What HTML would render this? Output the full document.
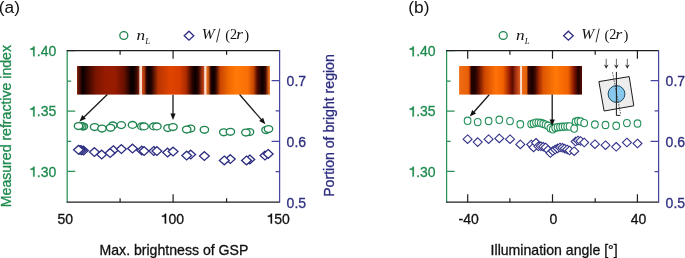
<!DOCTYPE html>
<html><head><meta charset="utf-8"><style>
html,body{margin:0;padding:0;background:#fff;width:685px;height:258px;overflow:hidden;}
svg{display:block;will-change:transform;}
</style></head><body>
<svg width="685" height="258" viewBox="0 0 685 258">
<defs>
<linearGradient id="ga1" x1="0" x2="1" y1="0" y2="0"><stop offset="0" stop-color="#8a2a10"/><stop offset="0.03" stop-color="#5a1004"/><stop offset="0.09" stop-color="#0a0000"/><stop offset="0.16" stop-color="#300500"/><stop offset="0.3" stop-color="#7a1400"/><stop offset="0.45" stop-color="#961b00"/><stop offset="0.6" stop-color="#981c00"/><stop offset="0.75" stop-color="#6a1000"/><stop offset="0.86" stop-color="#100000"/><stop offset="0.9" stop-color="#080000"/><stop offset="0.95" stop-color="#3a0800"/><stop offset="1" stop-color="#8a2a10"/></linearGradient>
<linearGradient id="ga2" x1="0" x2="1" y1="0" y2="0"><stop offset="0" stop-color="#d05018"/><stop offset="0.04" stop-color="#a83808"/><stop offset="0.07" stop-color="#300500"/><stop offset="0.115" stop-color="#080000"/><stop offset="0.16" stop-color="#300600"/><stop offset="0.26" stop-color="#b83400"/><stop offset="0.45" stop-color="#e04400"/><stop offset="0.6" stop-color="#d83e00"/><stop offset="0.7" stop-color="#b02c00"/><stop offset="0.8" stop-color="#300400"/><stop offset="0.85" stop-color="#080000"/><stop offset="0.9" stop-color="#2a0400"/><stop offset="0.96" stop-color="#a03010"/><stop offset="1" stop-color="#d05020"/></linearGradient>
<linearGradient id="ga3" x1="0" x2="1" y1="0" y2="0"><stop offset="0" stop-color="#f07a20"/><stop offset="0.04" stop-color="#c05010"/><stop offset="0.07" stop-color="#300500"/><stop offset="0.11" stop-color="#080000"/><stop offset="0.15" stop-color="#300600"/><stop offset="0.22" stop-color="#c84400"/><stop offset="0.35" stop-color="#f06800"/><stop offset="0.47" stop-color="#ff7a08"/><stop offset="0.65" stop-color="#f87008"/><stop offset="0.74" stop-color="#c84800"/><stop offset="0.8" stop-color="#500a00"/><stop offset="0.88" stop-color="#080000"/><stop offset="0.93" stop-color="#400800"/><stop offset="0.98" stop-color="#e06818"/><stop offset="1" stop-color="#f08030"/></linearGradient>
<linearGradient id="gb1" x1="0" x2="1" y1="0" y2="0"><stop offset="0" stop-color="#f06c14"/><stop offset="0.15" stop-color="#e86008"/><stop offset="0.18" stop-color="#a02800"/><stop offset="0.2" stop-color="#200200"/><stop offset="0.26" stop-color="#200200"/><stop offset="0.32" stop-color="#601000"/><stop offset="0.42" stop-color="#d04800"/><stop offset="0.6" stop-color="#ff7208"/><stop offset="0.72" stop-color="#f06000"/><stop offset="0.83" stop-color="#901800"/><stop offset="0.87" stop-color="#5a0c00"/><stop offset="0.92" stop-color="#a02c10"/><stop offset="1" stop-color="#e06020"/></linearGradient>
<linearGradient id="gb2" x1="0" x2="1" y1="0" y2="0"><stop offset="0" stop-color="#f06c14"/><stop offset="0.08" stop-color="#e06008"/><stop offset="0.1" stop-color="#400600"/><stop offset="0.17" stop-color="#180000"/><stop offset="0.22" stop-color="#400800"/><stop offset="0.28" stop-color="#a02800"/><stop offset="0.36" stop-color="#e05800"/><stop offset="0.56" stop-color="#ff7808"/><stop offset="0.77" stop-color="#f06000"/><stop offset="0.87" stop-color="#801400"/><stop offset="0.94" stop-color="#200000"/><stop offset="1" stop-color="#5a0c00"/></linearGradient>
</defs>
<rect x="77" y="66" width="62.6" height="28.599999999999994" fill="url(#ga1)"/>
<rect x="141.9" y="66" width="62.6" height="28.599999999999994" fill="url(#ga2)"/>
<rect x="206.2" y="66" width="63.8" height="28.599999999999994" fill="url(#ga3)"/>
<rect x="459.1" y="66" width="61.2" height="28.599999999999994" fill="url(#gb1)"/>
<rect x="522" y="66" width="60" height="28.599999999999994" fill="url(#gb2)"/>
<rect x="139.6" y="66" width="2.3" height="28.6" fill="#ffdccb"/>
<rect x="204.5" y="66" width="1.7" height="28.6" fill="#ffdccb"/>
<rect x="520.3" y="66" width="1.7" height="28.6" fill="#ffdccb"/>
<path d="M67.2 50.7h8M67.2 111.2h8M67.2 171.4h8M67.2 81.1h4M67.2 141.3h4M67.2 50.7V202.2" stroke="#2a9058" stroke-width="1.25" fill="none"/>
<path d="M173.1 202.2v-8M173.1 50.7v8M120.1 202.2v-4M120.1 50.7v4M226.6 202.2v-4M226.6 50.7v4" stroke="#1e1e1e" stroke-width="1.2" fill="none"/>
<path d="M66.6 50.7H279.6M66.6 202.2H279.6" stroke="#1e1e1e" stroke-width="1.25"/>
<path d="M279.6 80.5h-8M279.6 141.3h-8M279.6 110.9h-4M279.6 171.7h-4M279.6 50.1V202.8" stroke="#4646a0" stroke-width="1.25" fill="none"/>
<path d="M446.6 50.7h8M446.6 111.2h8M446.6 171.4h8M446.6 81.1h4M446.6 141.3h4M446.6 50.7V202.2" stroke="#2a9058" stroke-width="1.25" fill="none"/>
<path d="M467.7 202.2v-8M467.7 50.7v8M552.5 202.2v-8M552.5 50.7v8M637.4 202.2v-8M637.4 50.7v8M509.9 202.2v-4M509.9 50.7v4M595.2 202.2v-4M595.2 50.7v4" stroke="#1e1e1e" stroke-width="1.2" fill="none"/>
<path d="M446 50.7H658.6M446 202.2H658.6" stroke="#1e1e1e" stroke-width="1.25"/>
<path d="M658.6 80.5h-8M658.6 141.3h-8M658.6 110.9h-4M658.6 171.7h-4M658.6 50.1V202.8" stroke="#4646a0" stroke-width="1.25" fill="none"/>
<g fill="#fff" stroke="#1f8550" stroke-width="1.35"><ellipse cx="83.4" cy="126.5" rx="4.2" ry="3.45"/><ellipse cx="81.8" cy="126.2" rx="4.2" ry="3.45"/><ellipse cx="80" cy="125.8" rx="4.2" ry="3.45"/><ellipse cx="78.5" cy="126" rx="4.2" ry="3.45"/><ellipse cx="94.6" cy="127" rx="4.2" ry="3.45"/><ellipse cx="102" cy="128.5" rx="4.2" ry="3.45"/><ellipse cx="112.8" cy="125.4" rx="4.2" ry="3.45"/><ellipse cx="110.5" cy="127.8" rx="4.2" ry="3.45"/><ellipse cx="121.3" cy="125.1" rx="4.2" ry="3.45"/><ellipse cx="132.5" cy="124.9" rx="4.2" ry="3.45"/><ellipse cx="141.8" cy="126.4" rx="4.2" ry="3.45"/><ellipse cx="144.1" cy="126.4" rx="4.2" ry="3.45"/><ellipse cx="153.8" cy="126.4" rx="4.2" ry="3.45"/><ellipse cx="156.9" cy="126.4" rx="4.2" ry="3.45"/><ellipse cx="168" cy="128" rx="4.2" ry="3.45"/><ellipse cx="173" cy="127" rx="4.2" ry="3.45"/><ellipse cx="190.6" cy="128.5" rx="4.2" ry="3.45"/><ellipse cx="186.7" cy="129.5" rx="4.2" ry="3.45"/><ellipse cx="204.4" cy="129.8" rx="4.2" ry="3.45"/><ellipse cx="223.8" cy="132.3" rx="4.2" ry="3.45"/><ellipse cx="230.4" cy="131.8" rx="4.2" ry="3.45"/><ellipse cx="249.5" cy="132" rx="4.2" ry="3.45"/><ellipse cx="245.9" cy="132.5" rx="4.2" ry="3.45"/><ellipse cx="266" cy="130" rx="4.2" ry="3.45"/><ellipse cx="268.5" cy="129" rx="4.2" ry="3.45"/></g>
<g fill="#fff" stroke="#24905a" stroke-width="1.1"><ellipse cx="467.6" cy="120.8" rx="3.35" ry="3.65"/><ellipse cx="477.7" cy="122.1" rx="3.35" ry="3.65"/><ellipse cx="488.6" cy="121" rx="3.35" ry="3.65"/><ellipse cx="499.3" cy="119.8" rx="3.35" ry="3.65"/><ellipse cx="510" cy="121.1" rx="3.35" ry="3.65"/><ellipse cx="520.3" cy="124.3" rx="3.35" ry="3.65"/><ellipse cx="531.2" cy="124.1" rx="3.35" ry="3.65"/><ellipse cx="533.6" cy="123.4" rx="3.35" ry="3.65"/><ellipse cx="536" cy="122.6" rx="3.35" ry="3.65"/><ellipse cx="538.4" cy="122.6" rx="3.35" ry="3.65"/><ellipse cx="540.8" cy="123" rx="3.35" ry="3.65"/><ellipse cx="543.2" cy="123.8" rx="3.35" ry="3.65"/><ellipse cx="545.6" cy="124.6" rx="3.35" ry="3.65"/><ellipse cx="548" cy="125.8" rx="3.35" ry="3.65"/><ellipse cx="550.4" cy="128.2" rx="3.35" ry="3.65"/><ellipse cx="552.8" cy="129.3" rx="3.35" ry="3.65"/><ellipse cx="555.2" cy="127.8" rx="3.35" ry="3.65"/><ellipse cx="557.6" cy="127.2" rx="3.35" ry="3.65"/><ellipse cx="560" cy="127" rx="3.35" ry="3.65"/><ellipse cx="562.4" cy="126.8" rx="3.35" ry="3.65"/><ellipse cx="564.8" cy="126.6" rx="3.35" ry="3.65"/><ellipse cx="567.2" cy="126.4" rx="3.35" ry="3.65"/><ellipse cx="569.6" cy="126.4" rx="3.35" ry="3.65"/><ellipse cx="575.6" cy="121.8" rx="3.35" ry="3.65"/><ellipse cx="578" cy="121" rx="3.35" ry="3.65"/><ellipse cx="580.5" cy="121.5" rx="3.35" ry="3.65"/><ellipse cx="574.2" cy="128.6" rx="3.35" ry="3.65"/><ellipse cx="584.2" cy="123.1" rx="3.35" ry="3.65"/><ellipse cx="594.9" cy="124.5" rx="3.35" ry="3.65"/><ellipse cx="605.5" cy="125" rx="3.35" ry="3.65"/><ellipse cx="616.2" cy="125.8" rx="3.35" ry="3.65"/><ellipse cx="626.9" cy="123.1" rx="3.35" ry="3.65"/><ellipse cx="637.5" cy="123.5" rx="3.35" ry="3.65"/></g>
<g fill="#fff" stroke="#2c2c80" stroke-width="1.3"><path d="M83.5 146.2l4.9 4.4l-4.9 4.4l-4.9 -4.4z"/><path d="M81.6 145.9l4.9 4.4l-4.9 4.4l-4.9 -4.4z"/><path d="M80 145.6l4.9 4.4l-4.9 4.4l-4.9 -4.4z"/><path d="M78.5 145.4l4.9 4.4l-4.9 4.4l-4.9 -4.4z"/><path d="M94.4 147.7l4.9 4.4l-4.9 4.4l-4.9 -4.4z"/><path d="M101.7 150.2l4.9 4.4l-4.9 4.4l-4.9 -4.4z"/><path d="M113.3 145.8l4.9 4.4l-4.9 4.4l-4.9 -4.4z"/><path d="M110.1 148.7l4.9 4.4l-4.9 4.4l-4.9 -4.4z"/><path d="M121.4 144.7l4.9 4.4l-4.9 4.4l-4.9 -4.4z"/><path d="M132.5 144.2l4.9 4.4l-4.9 4.4l-4.9 -4.4z"/><path d="M141.8 146.2l4.9 4.4l-4.9 4.4l-4.9 -4.4z"/><path d="M144.1 146.7l4.9 4.4l-4.9 4.4l-4.9 -4.4z"/><path d="M153.8 146.6l4.9 4.4l-4.9 4.4l-4.9 -4.4z"/><path d="M156.9 146.7l4.9 4.4l-4.9 4.4l-4.9 -4.4z"/><path d="M167.6 148.2l4.9 4.4l-4.9 4.4l-4.9 -4.4z"/><path d="M173.1 147.2l4.9 4.4l-4.9 4.4l-4.9 -4.4z"/><path d="M190.7 150.2l4.9 4.4l-4.9 4.4l-4.9 -4.4z"/><path d="M186.7 151.2l4.9 4.4l-4.9 4.4l-4.9 -4.4z"/><path d="M204.4 151.7l4.9 4.4l-4.9 4.4l-4.9 -4.4z"/><path d="M230.3 154.7l4.9 4.4l-4.9 4.4l-4.9 -4.4z"/><path d="M224.3 156l4.9 4.4l-4.9 4.4l-4.9 -4.4z"/><path d="M249.8 155l4.9 4.4l-4.9 4.4l-4.9 -4.4z"/><path d="M246.5 156l4.9 4.4l-4.9 4.4l-4.9 -4.4z"/><path d="M265 151.2l4.9 4.4l-4.9 4.4l-4.9 -4.4z"/><path d="M268.2 149.5l4.9 4.4l-4.9 4.4l-4.9 -4.4z"/></g>
<g fill="#fff" stroke="#323288" stroke-width="1.1"><path d="M467.6 134.9l4.5 4.3l-4.5 4.3l-4.5 -4.3z"/><path d="M477.7 137.8l4.5 4.3l-4.5 4.3l-4.5 -4.3z"/><path d="M488.6 134.9l4.5 4.3l-4.5 4.3l-4.5 -4.3z"/><path d="M499.3 134.1l4.5 4.3l-4.5 4.3l-4.5 -4.3z"/><path d="M510 134.9l4.5 4.3l-4.5 4.3l-4.5 -4.3z"/><path d="M520.3 140.1l4.5 4.3l-4.5 4.3l-4.5 -4.3z"/><path d="M531.2 140.2l4.5 4.3l-4.5 4.3l-4.5 -4.3z"/><path d="M533.6 143.1l4.5 4.3l-4.5 4.3l-4.5 -4.3z"/><path d="M536 138.5l4.5 4.3l-4.5 4.3l-4.5 -4.3z"/><path d="M538.4 142l4.5 4.3l-4.5 4.3l-4.5 -4.3z"/><path d="M540.8 142l4.5 4.3l-4.5 4.3l-4.5 -4.3z"/><path d="M543.2 142.5l4.5 4.3l-4.5 4.3l-4.5 -4.3z"/><path d="M545.6 143.2l4.5 4.3l-4.5 4.3l-4.5 -4.3z"/><path d="M548 145.7l4.5 4.3l-4.5 4.3l-4.5 -4.3z"/><path d="M550.4 148.7l4.5 4.3l-4.5 4.3l-4.5 -4.3z"/><path d="M552.8 146.7l4.5 4.3l-4.5 4.3l-4.5 -4.3z"/><path d="M555.2 145.2l4.5 4.3l-4.5 4.3l-4.5 -4.3z"/><path d="M557.6 144.1l4.5 4.3l-4.5 4.3l-4.5 -4.3z"/><path d="M560 143.2l4.5 4.3l-4.5 4.3l-4.5 -4.3z"/><path d="M562.4 143.5l4.5 4.3l-4.5 4.3l-4.5 -4.3z"/><path d="M564.8 144.3l4.5 4.3l-4.5 4.3l-4.5 -4.3z"/><path d="M567.2 145.2l4.5 4.3l-4.5 4.3l-4.5 -4.3z"/><path d="M569.6 146.2l4.5 4.3l-4.5 4.3l-4.5 -4.3z"/><path d="M575.6 137.2l4.5 4.3l-4.5 4.3l-4.5 -4.3z"/><path d="M578 136.2l4.5 4.3l-4.5 4.3l-4.5 -4.3z"/><path d="M580.5 136.7l4.5 4.3l-4.5 4.3l-4.5 -4.3z"/><path d="M574.2 146.9l4.5 4.3l-4.5 4.3l-4.5 -4.3z"/><path d="M584.2 138.2l4.5 4.3l-4.5 4.3l-4.5 -4.3z"/><path d="M594.9 139.9l4.5 4.3l-4.5 4.3l-4.5 -4.3z"/><path d="M605.5 140.9l4.5 4.3l-4.5 4.3l-4.5 -4.3z"/><path d="M616.2 142.5l4.5 4.3l-4.5 4.3l-4.5 -4.3z"/><path d="M626.9 138.2l4.5 4.3l-4.5 4.3l-4.5 -4.3z"/><path d="M637.5 139.2l4.5 4.3l-4.5 4.3l-4.5 -4.3z"/></g>
<path d="M107.3 94.5L83.35 117.68" stroke="#1a1a1a" stroke-width="1.3"/><path d="M79.4 121.5L82.26 115.11L85.88 118.85z" fill="#111"/>
<path d="M173 94.7L173 114.5" stroke="#1a1a1a" stroke-width="1.3"/><path d="M173 120L170.4 113.5L175.6 113.5z" fill="#111"/>
<path d="M239.6 94.5L261.8 120.14" stroke="#1a1a1a" stroke-width="1.3"/><path d="M265.4 124.3L259.18 121.09L263.11 117.68z" fill="#111"/>
<path d="M489.2 94.7L473.45 112.48" stroke="#1a1a1a" stroke-width="1.3"/><path d="M469.8 116.6L472.16 110.01L476.06 113.46z" fill="#111"/>
<path d="M552.2 94.6L552.2 120.5" stroke="#1a1a1a" stroke-width="1.3"/><path d="M552.2 126L549.6 119.5L554.8 119.5z" fill="#111"/>
<g>
<path d="M598.9 81.6L629.2 76.6L633.8 105.8L604.1 111Z" fill="#ededed" stroke="#1a1a1a" stroke-width="1"/>
<circle cx="616.5" cy="94" r="8.4" fill="#88c8ec" stroke="#1f4862" stroke-width="1"/>
<path d="M612.5 72.3L620.6 114" stroke="#333" stroke-width="0.8" stroke-dasharray="1.6 1.1"/>
<path d="M616.4 71.9V115.4H620.4" stroke="#1a1a1a" stroke-width="1" fill="none"/>
</g>
<path d="M606.2 58.8V65.5" stroke="#555" stroke-width="0.9"/>
<path d="M606.2 68.8L603.9 64.5L606.2 65.7L608.5 64.5Z" fill="#2a2a2a"/>
<path d="M616.4 58.8V65.5" stroke="#555" stroke-width="0.9"/>
<path d="M616.4 68.8L614.1 64.5L616.4 65.7L618.7 64.5Z" fill="#2a2a2a"/>
<path d="M627.3 58.8V65.5" stroke="#555" stroke-width="0.9"/>
<path d="M627.3 68.8L625 64.5L627.3 65.7L629.6 64.5Z" fill="#2a2a2a"/>
<text x="-1.2" y="13.1" font-size="17.3" fill="#111" stroke="#111" stroke-width="0" text-anchor="start" font-family="Liberation Sans, sans-serif" >(a)</text>
<text x="408.3" y="13.1" font-size="17.3" fill="#111" stroke="#111" stroke-width="0" text-anchor="start" font-family="Liberation Sans, sans-serif" >(b)</text>
<path transform="translate(29.06 56.3)" d="M5.5 0V-9.85H4.35C4 -8.6 3 -7.9 1.3 -7.8V-6.65H4.15V0Z" fill="#1f8a4e" stroke="#1f8a4e" stroke-width="0.3"/><text x="36.84" y="56.3" font-size="14" fill="#1f8a4e" stroke="#1f8a4e" stroke-width="0.3" text-anchor="start" font-family="Liberation Sans, sans-serif" >.40</text>
<path transform="translate(29.06 116.4)" d="M5.5 0V-9.85H4.35C4 -8.6 3 -7.9 1.3 -7.8V-6.65H4.15V0Z" fill="#1f8a4e" stroke="#1f8a4e" stroke-width="0.3"/><text x="36.84" y="116.4" font-size="14" fill="#1f8a4e" stroke="#1f8a4e" stroke-width="0.3" text-anchor="start" font-family="Liberation Sans, sans-serif" >.35</text>
<path transform="translate(29.06 176.5)" d="M5.5 0V-9.85H4.35C4 -8.6 3 -7.9 1.3 -7.8V-6.65H4.15V0Z" fill="#1f8a4e" stroke="#1f8a4e" stroke-width="0.3"/><text x="36.84" y="176.5" font-size="14" fill="#1f8a4e" stroke="#1f8a4e" stroke-width="0.3" text-anchor="start" font-family="Liberation Sans, sans-serif" >.30</text>
<path transform="translate(408.36 56.3)" d="M5.5 0V-9.85H4.35C4 -8.6 3 -7.9 1.3 -7.8V-6.65H4.15V0Z" fill="#1f8a4e" stroke="#1f8a4e" stroke-width="0.3"/><text x="416.14" y="56.3" font-size="14" fill="#1f8a4e" stroke="#1f8a4e" stroke-width="0.3" text-anchor="start" font-family="Liberation Sans, sans-serif" >.40</text>
<path transform="translate(408.36 116.4)" d="M5.5 0V-9.85H4.35C4 -8.6 3 -7.9 1.3 -7.8V-6.65H4.15V0Z" fill="#1f8a4e" stroke="#1f8a4e" stroke-width="0.3"/><text x="416.14" y="116.4" font-size="14" fill="#1f8a4e" stroke="#1f8a4e" stroke-width="0.3" text-anchor="start" font-family="Liberation Sans, sans-serif" >.35</text>
<path transform="translate(408.36 176.5)" d="M5.5 0V-9.85H4.35C4 -8.6 3 -7.9 1.3 -7.8V-6.65H4.15V0Z" fill="#1f8a4e" stroke="#1f8a4e" stroke-width="0.3"/><text x="416.14" y="176.5" font-size="14" fill="#1f8a4e" stroke="#1f8a4e" stroke-width="0.3" text-anchor="start" font-family="Liberation Sans, sans-serif" >.30</text>
<text x="286.6" y="86.2" font-size="14" fill="#2e2e80" stroke="#2e2e80" stroke-width="0.3" text-anchor="start" font-family="Liberation Sans, sans-serif" >0.7</text>
<text x="286.6" y="147" font-size="14" fill="#2e2e80" stroke="#2e2e80" stroke-width="0.3" text-anchor="start" font-family="Liberation Sans, sans-serif" >0.6</text>
<text x="286.6" y="207.5" font-size="14" fill="#2e2e80" stroke="#2e2e80" stroke-width="0.3" text-anchor="start" font-family="Liberation Sans, sans-serif" >0.5</text>
<text x="665.6" y="86.2" font-size="14" fill="#2e2e80" stroke="#2e2e80" stroke-width="0.3" text-anchor="start" font-family="Liberation Sans, sans-serif" >0.7</text>
<text x="665.6" y="147" font-size="14" fill="#2e2e80" stroke="#2e2e80" stroke-width="0.3" text-anchor="start" font-family="Liberation Sans, sans-serif" >0.6</text>
<text x="665.6" y="207.5" font-size="14" fill="#2e2e80" stroke="#2e2e80" stroke-width="0.3" text-anchor="start" font-family="Liberation Sans, sans-serif" >0.5</text>
<text x="65.2" y="223.5" font-size="14" fill="#111" stroke="#111" stroke-width="0.3" text-anchor="middle" font-family="Liberation Sans, sans-serif" >50</text>
<path transform="translate(160.62 223.5)" d="M5.5 0V-9.85H4.35C4 -8.6 3 -7.9 1.3 -7.8V-6.65H4.15V0Z" fill="#111" stroke="#111" stroke-width="0.3"/><text x="168.41" y="223.5" font-size="14" fill="#111" stroke="#111" stroke-width="0.3" text-anchor="start" font-family="Liberation Sans, sans-serif" >00</text>
<path transform="translate(266.52 223.5)" d="M5.5 0V-9.85H4.35C4 -8.6 3 -7.9 1.3 -7.8V-6.65H4.15V0Z" fill="#111" stroke="#111" stroke-width="0.3"/><text x="274.31" y="223.5" font-size="14" fill="#111" stroke="#111" stroke-width="0.3" text-anchor="start" font-family="Liberation Sans, sans-serif" >50</text>
<text x="468.7" y="223.5" font-size="14" fill="#111" stroke="#111" stroke-width="0.3" text-anchor="middle" font-family="Liberation Sans, sans-serif" >-40</text>
<text x="553.5" y="223.5" font-size="14" fill="#111" stroke="#111" stroke-width="0.3" text-anchor="middle" font-family="Liberation Sans, sans-serif" >0</text>
<text x="638.6" y="223.5" font-size="14" fill="#111" stroke="#111" stroke-width="0.3" text-anchor="middle" font-family="Liberation Sans, sans-serif" >40</text>
<text x="99.5" y="254.6" font-size="14.1" fill="#111" stroke="#111" stroke-width="0.3" text-anchor="start" font-family="Liberation Sans, sans-serif" >Max. brightness of GSP</text>
<text x="490.6" y="254.7" font-size="14.1" fill="#111" stroke="#111" stroke-width="0.3" text-anchor="start" font-family="Liberation Sans, sans-serif" >Illumination angle [°]</text>
<text x="0" y="0" font-size="14.1" fill="#1f8a4e" stroke="#1f8a4e" stroke-width="0.3" text-anchor="middle" font-family="Liberation Sans, sans-serif" transform="translate(11.3 126.1) rotate(-90)">Measured refractive index</text>
<text x="0" y="0" font-size="14.1" fill="#2e2e80" stroke="#2e2e80" stroke-width="0.3" text-anchor="middle" font-family="Liberation Sans, sans-serif" transform="translate(334.3 125.5) rotate(-90)">Portion of bright region</text>
<ellipse cx="123.8" cy="35.5" rx="4" ry="3.9" fill="none" stroke="#1f8550" stroke-width="1.3"/><text transform="translate(136.6 39.5) scale(1.18 1)" font-size="14.6" font-style="italic" fill="#111" font-family="Liberation Serif, serif">n</text><text x="145.3" y="43.6" font-size="8.6" font-style="italic" fill="#111" font-family="Liberation Serif, serif">L</text><path d="M189 31.2l4.8 4.5l-4.8 4.5l-4.8 -4.5z" fill="none" stroke="#2c2c80" stroke-width="1.3"/><text transform="translate(201.8 38.9) scale(1.1 1)" font-size="14.2" font-style="italic" fill="#111" font-family="Liberation Serif, serif">W</text><path d="M219.8 28.6L216.6 42.3" stroke="#111" stroke-width="0.9"/><text x="225.2" y="39.6" font-size="14.6" fill="#111" font-family="Liberation Serif, serif">(</text><text x="229.9" y="38.9" font-size="14.2" fill="#111" font-family="Liberation Serif, serif">2</text><text transform="translate(236.2 38.9) scale(1.22 1)" font-size="14.2" font-style="italic" fill="#111" font-family="Liberation Serif, serif">r</text><text x="244.2" y="39.6" font-size="14.6" fill="#111" font-family="Liberation Serif, serif">)</text>
<ellipse cx="503.2" cy="35.5" rx="4" ry="3.9" fill="none" stroke="#1f8550" stroke-width="1.3"/><text transform="translate(516 39.5) scale(1.18 1)" font-size="14.6" font-style="italic" fill="#111" font-family="Liberation Serif, serif">n</text><text x="524.7" y="43.6" font-size="8.6" font-style="italic" fill="#111" font-family="Liberation Serif, serif">L</text><path d="M568.4 31.2l4.8 4.5l-4.8 4.5l-4.8 -4.5z" fill="none" stroke="#2c2c80" stroke-width="1.3"/><text transform="translate(581.2 38.9) scale(1.1 1)" font-size="14.2" font-style="italic" fill="#111" font-family="Liberation Serif, serif">W</text><path d="M599.2 28.6L596 42.3" stroke="#111" stroke-width="0.9"/><text x="604.6" y="39.6" font-size="14.6" fill="#111" font-family="Liberation Serif, serif">(</text><text x="609.3" y="38.9" font-size="14.2" fill="#111" font-family="Liberation Serif, serif">2</text><text transform="translate(615.6 38.9) scale(1.22 1)" font-size="14.2" font-style="italic" fill="#111" font-family="Liberation Serif, serif">r</text><text x="623.6" y="39.6" font-size="14.6" fill="#111" font-family="Liberation Serif, serif">)</text>
</svg>
</body></html>
